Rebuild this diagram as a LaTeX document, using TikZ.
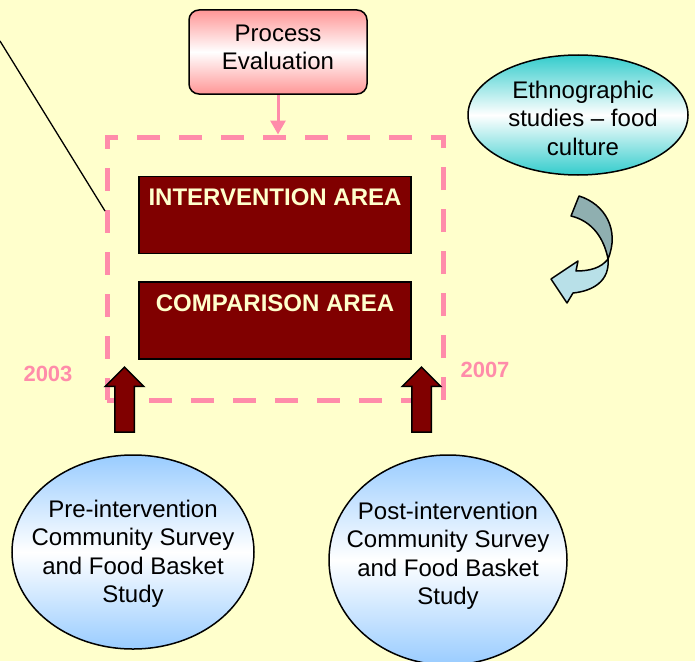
\documentclass[tikz,border=0pt]{standalone}
\usepackage{fontspec}
\setmainfont{Liberation Sans}
\usetikzlibrary{shapes.geometric,shapes.arrows,arrows.meta}

\definecolor{paper}{RGB}{255,255,204}
\definecolor{rose}{RGB}{255,140,170}
\definecolor{maroon}{RGB}{128,0,0}
\definecolor{salmon}{RGB}{255,150,150}
\definecolor{aqua}{RGB}{51,204,204}
\definecolor{sky}{RGB}{153,204,255}
\definecolor{ribbondark}{RGB}{143,175,176}
\definecolor{ribbonlight}{RGB}{184,224,232}

\tikzset{
  txt/.style={font=\fontsize{24}{28.5}\selectfont, align=center},
  bubble/.style={ellipse, draw, line width=1.5pt, inner sep=0pt},
  areabox/.style={draw, line width=1.5pt, fill=maroon, text=paper,
    font=\fontsize{24}{28}\selectfont\bfseries, minimum width=272pt,
    text height=29pt, text depth=48pt, inner sep=0pt},
  blockarrow/.style={single arrow, draw, line width=1.5pt, fill=maroon,
    minimum height=65pt, minimum width=37pt, single arrow head extend=9.5pt,
    inner sep=9pt, rotate=90},
  year/.style={text=rose, font=\fontsize{22}{24}\selectfont\bfseries}
}

\begin{document}
\begin{tikzpicture}[x=1pt,y=-1pt]
    \fill[paper] (0,0) rectangle (695,661);
    \useasboundingbox (0,0) rectangle (695,661);

    \node (proc) [txt, draw, line width=1.5pt, rounded corners=10pt,
        minimum width=178pt, minimum height=84pt, text depth=10pt,
        top color=salmon, bottom color=salmon, middle color=white]
        at (278,52) {Process\\Evaluation};
    \node (area) [draw=rose, line width=5pt, dash pattern=on 23pt off 19pt,
        minimum width=336pt, minimum height=263pt] at (275,268.5) {};
    \node (interv) [areabox] at (275,215) {INTERVENTION AREA};
    \node (compar) [areabox] at (275,320.5) {COMPARISON AREA};
    \node [year] at (48,374) {2003};
    \node [year] at (485,370) {2007};

    \node (ethno) [bubble, minimum width=220pt, minimum height=120pt,
        top color=aqua, bottom color=aqua, middle color=white,
        label={[txt, xshift=5pt, yshift=-3pt]center:Ethnographic\\studies -- food\\culture}]
        at (578,115) {};
    \node (pre) [bubble, minimum width=242pt, minimum height=194pt,
        top color=sky, bottom color=sky, middle color=white,
        label={[txt, yshift=-2pt]center:Pre-intervention\\Community Survey\\and Food Basket\\Study}]
        at (133,552) {};
    \node (post) [bubble, minimum width=238pt, minimum height=210pt,
        top color=sky, bottom color=sky, middle color=white,
        label={[txt, yshift=4pt]center:Post-intervention\\Community Survey\\and Food Basket\\Study}]
        at (448,560) {};

    \node (preup) [blockarrow] at (124.5,404.5) {};
    \node (postup) [blockarrow] at (421.5,404.5) {};

    \coordinate (lstart) at (0,41);
    \coordinate (lend) at (105,211);
    \draw [line width=1.3pt] (lstart) -- (lend);
    \draw [rose, line width=3pt, -{Triangle[width=15pt,length=14pt]}]
        (proc.south) -- (proc.south |- area.north);

    % twisted ribbon arrow under the ethnographic studies
    \draw [line width=1.5pt, line join=round, fill=ribbondark]
        (571,216) -- (579,196) .. controls (605,204) and (620,230) .. (608,259)
        .. controls (604,238) and (592,221) .. (571,216) -- cycle;
    \draw [line width=1.5pt, line join=round, fill=ribbonlight]
        (608,259) .. controls (601,268) and (590,271) .. (576,271)
        -- (578,261) -- (551,279) -- (567,303) -- (573,293)
        .. controls (593,291) and (610,281) .. (608,259) -- cycle;
\end{tikzpicture}
\end{document}
